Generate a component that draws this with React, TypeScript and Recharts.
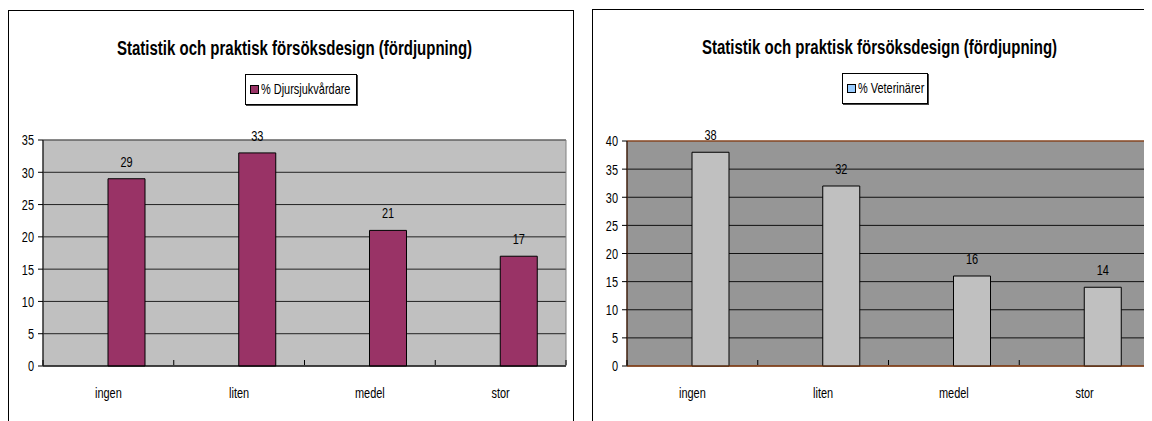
import React from "react";
import { BarChart, Bar, XAxis, YAxis, CartesianGrid, LabelList, Legend, ReferenceArea } from "recharts";

const categories = ["ingen", "liten", "medel", "stor"];
const djursjukvardare = [29, 33, 21, 17];
const veterinarer = [38, 32, 16, 14];
const leftTicks = [0, 5, 10, 15, 20, 25, 30, 35];
const rightTicks = [0, 5, 10, 15, 20, 25, 30, 35, 40];
const titleText = "Statistik och praktisk försöksdesign (fördjupning)";
const leftSeriesName = "% Djursjukvårdare";
const rightSeriesName = "% Veterinärer";

const leftData = categories.map((c, i) => ({ cat: c, hidden: null, value: djursjukvardare[i] }));
const rightData = categories.map((c, i) => ({ cat: c, hidden: null, value: veterinarer[i] }));

const FONT = "'Liberation Sans', Arial, sans-serif";
const SX = 0.73;
const FS = 15;

function makeXTick(band: number, count: number, tickColor: string) {
  return (props: any) => {
    const { x, y, payload, index } = props;
    const i = payload?.index ?? index ?? 0;
    return (
      <g>
        <line x1={x - band / 2} x2={x - band / 2} y1={y - 14} y2={y - 9} stroke={tickColor} />
        {i === count - 1 && (
          <line x1={x + band / 2} x2={x + band / 2} y1={y - 14} y2={y - 9} stroke={tickColor} />
        )}
        <text
          transform={`translate(${x},${y + 24}) scale(${SX},1)`}
          x={0}
          y={0}
          textAnchor="middle"
          fontSize={FS}
          fontFamily={FONT}
          fill="#000"
        >
          {payload.value}
        </text>
      </g>
    );
  };
}

const YTick = (props: any) => {
  const { x, y, payload } = props;
  return (
    <text
      transform={`translate(${x},${y}) scale(${SX},1)`}
      x={0}
      y={0}
      dy="0.36em"
      textAnchor="end"
      fontSize={FS}
      fontFamily={FONT}
      fill="#000"
    >
      {payload.value}
    </text>
  );
};

const BarLabel = (props: any) => {
  const { x, y, width, value } = props;
  return (
    <text
      transform={`translate(${x + width / 2},${y - 12}) scale(${SX},1)`}
      x={0}
      y={0}
      textAnchor="middle"
      fontSize={FS}
      fontFamily={FONT}
      fill="#000"
    >
      {value}
    </text>
  );
};

function LegendBox({ name, color, width }: { name: string; color: string; width: number }) {
  return (
    <div
      style={{
        position: "relative",
        width,
        height: 29,
        border: "1px solid #000",
        boxShadow: "1px 1px 0 #444",
        background: "#fff",
        fontFamily: FONT,
        fontSize: FS,
        color: "#000",
        whiteSpace: "nowrap",
      }}
    >
      <span
        style={{
          position: "absolute",
          left: 4,
          top: 10,
          width: 7,
          height: 7,
          background: color,
          border: "1px solid #000",
        }}
      />
      <span
        style={{
          position: "absolute",
          left: 15,
          top: 5,
          transform: `scaleX(${SX})`,
          transformOrigin: "left center",
          lineHeight: "18px",
        }}
      >
        {name}
      </span>
    </div>
  );
}

const Title = ({ left, top }: { left: number; top: number }) => (
  <div
    style={{
      position: "absolute",
      left,
      top,
      fontFamily: FONT,
      fontWeight: "bold",
      fontSize: 20,
      lineHeight: "24px",
      color: "#000",
      whiteSpace: "nowrap",
      transform: "scaleX(0.75)",
      transformOrigin: "left top",
    }}
  >
    {titleText}
  </div>
);

export default function App() {
  const W1 = 566;
  const H1 = 411;
  const band1 = (W1 - 35 - 8) / 4;
  const W2 = 560;
  const H2 = 412;
  const band2 = (W2 - 35 - 2) / 4;
  return (
    <div style={{ position: "relative", width: 1144, height: 413, overflow: "hidden" }}>
      {/* Left panel */}
      <div style={{ position: "absolute", left: 0, top: 2, width: W1 - 2, height: 430, border: "1px solid #000" }} />
      <div style={{ position: "absolute", left: 0, top: 2 }}>
        <BarChart
          width={W1}
          height={H1}
          data={leftData}
          margin={{ top: 130, right: 8, left: 0, bottom: 0 }}
          barGap={0}
          barSize={37}
        >
          <CartesianGrid vertical={false} stroke="#222" fill="#C0C0C0" fillOpacity={1} />
          <ReferenceArea y1={0} y2={35} fill="none" stroke="#808080" strokeWidth={1} ifOverflow="visible" />
          <XAxis
            dataKey="cat"
            height={55}
            tickLine={false}
            axisLine={{ stroke: "#000" }}
            interval={0}
            tick={makeXTick(band1, categories.length, "#000")}
          />
          <YAxis
            width={35}
            domain={[0, 35]}
            ticks={leftTicks}
            interval={0}
            axisLine={{ stroke: "#000" }}
            tickLine={{ stroke: "#000" }}
            tickSize={5}
            tickMargin={4}
            tick={<YTick />}
          />
          <Legend
            verticalAlign="middle"
            align="center"
            wrapperStyle={{ top: 64, left: 237, width: "auto" }}
            content={() => <LegendBox name={leftSeriesName} color="#993366" width={110} />}
          />
          <Bar dataKey="hidden" legendType="none" fill="#9999FF" isAnimationActive={false} />
          <Bar dataKey="value" name={leftSeriesName} fill="#993366" stroke="#000" strokeWidth={1} isAnimationActive={false}>
            <LabelList dataKey="value" content={<BarLabel />} />
          </Bar>
        </BarChart>
      </div>
      <Title left={109} top={28} />

      {/* Right panel */}
      <div style={{ position: "absolute", left: 584, top: 1, width: 600, height: 430, border: "1px solid #000" }} />
      <div style={{ position: "absolute", left: 584, top: 1 }}>
        <BarChart
          width={W2}
          height={H2}
          data={rightData}
          margin={{ top: 132, right: 2, left: 0, bottom: 0 }}
          barGap={0}
          barSize={37}
        >
          <CartesianGrid vertical={false} stroke="#111" fill="#969696" fillOpacity={1} />
          <ReferenceArea y1={0} y2={40} fill="none" stroke="#C0602A" strokeWidth={1} ifOverflow="visible" />
          <XAxis
            dataKey="cat"
            height={55}
            tickLine={false}
            axisLine={{ stroke: "#7A3A10" }}
            interval={0}
            tick={makeXTick(band2, categories.length, "#000")}
          />
          <YAxis
            width={35}
            domain={[0, 40]}
            ticks={rightTicks}
            interval={0}
            axisLine={{ stroke: "#000" }}
            tickLine={{ stroke: "#000" }}
            tickSize={5}
            tickMargin={4}
            tick={<YTick />}
          />
          <Legend
            verticalAlign="middle"
            align="center"
            wrapperStyle={{ top: 64, left: 250, width: "auto" }}
            content={() => <LegendBox name={rightSeriesName} color="#99CCFF" width={84} />}
          />
          <Bar dataKey="hidden" legendType="none" fill="#9999FF" isAnimationActive={false} />
          <Bar dataKey="value" name={rightSeriesName} fill="#C0C0C0" stroke="#000" strokeWidth={1} isAnimationActive={false}>
            <LabelList dataKey="value" content={<BarLabel />} />
          </Bar>
        </BarChart>
      </div>
      <Title left={694} top={27} />
    </div>
  );
}
